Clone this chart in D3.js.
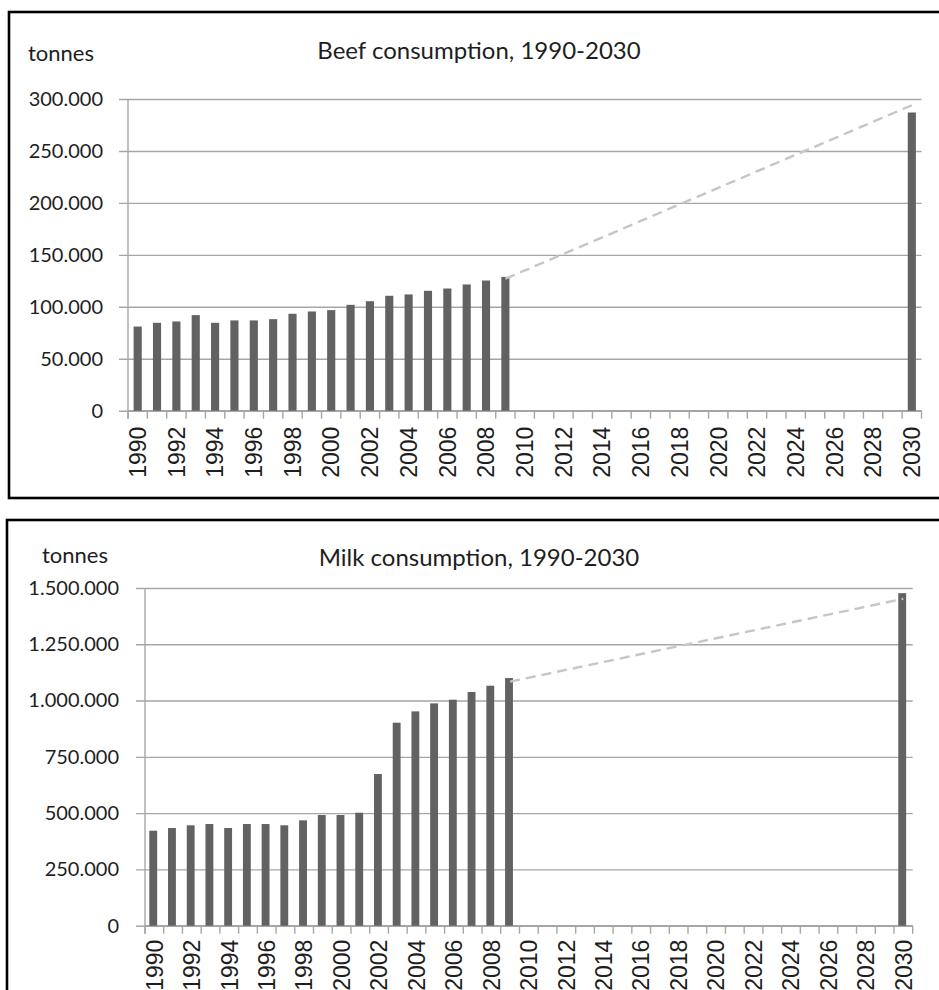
<!DOCTYPE html>
<html>
<head>
<meta charset="utf-8">
<script src="https://cdn.jsdelivr.net/npm/d3@7"></script>
<style>
  body { margin: 0; background: #fff; overflow: hidden; }
  svg { display: block; }
</style>
</head>
<body>
<svg id="main-svg" width="939" height="990"></svg>
<script>
'use strict';

// categories: every year on the x axis
const years = d3.range(1990, 2031);

// beef consumption, tonnes (actual 1990-2009 + 2030 target)
const beefYears = [1990, 1991, 1992, 1993, 1994, 1995, 1996, 1997, 1998, 1999,
    2000, 2001, 2002, 2003, 2004, 2005, 2006, 2007, 2008, 2009, 2030];
const beefValues = [81000, 84600, 85900, 92000, 84600, 86900, 86900, 88100, 93300, 95500,
    96800, 101900, 105400, 110600, 111900, 115400, 117600, 121500, 125300, 128800, 287000];
const beefTrendYears = [2009, 2030];
const beefTrendValues = [127000, 294000];
const beefTicks = [0, 50000, 100000, 150000, 200000, 250000, 300000];

// milk consumption, tonnes
const milkYears = beefYears;
const milkValues = [422000, 434000, 446000, 451600, 434000, 451600, 451600, 446000, 468000, 491600,
    491600, 502000, 673700, 901700, 952000, 987600, 1003800, 1037900, 1066000, 1100000, 1477000];
const milkTrendYears = [2009, 2030];
const milkTrendValues = [1084000, 1452000];
const milkTicks = [0, 250000, 500000, 750000, 1000000, 1250000, 1500000];

const locale = d3.formatLocale({decimal: ',', thousands: '.', grouping: [3], currency: ['', '']});
const fmt = locale.format(',');

const colors = {
    bar: '#626262',
    grid: '#a6a6a6',
    trend: '#c6c6c6',
    text: '#1e1e1e',
};

const svg = d3.select('#main-svg');

const drawChart = (cfg) => {
    const g = svg.append('g');

    // outer frame
    g.append('rect')
        .attr('x', cfg.box[0]).attr('y', cfg.box[1])
        .attr('width', cfg.box[2]).attr('height', cfg.box[3])
        .attr('fill', 'none').attr('stroke', '#000').attr('stroke-width', 2.6);

    const x = d3.scaleBand().domain(years).range([cfg.left, cfg.right]);
    const y = d3.scaleLinear().domain([0, cfg.max]).range([cfg.bottom, cfg.top]);
    const bw = x.bandwidth();

    // y axis with gridlines
    const ya = g.append('g')
        .attr('transform', `translate(${cfg.left},0)`)
        .call(d3.axisLeft(y).tickValues(cfg.ticks).tickFormat(fmt)
            .tickSize(-(cfg.right - cfg.left)).tickPadding(cfg.ypad));
    ya.select('.domain').remove();
    ya.selectAll('.tick line')
        .attr('x1', -9)
        .attr('stroke', colors.grid).attr('stroke-width', 1.4);
    ya.selectAll('.tick text')
        .attr('x', -cfg.ypad)
        .style('font-family', 'Lato, "Open Sans", sans-serif')
        .style('font-size', cfg.yfont + 'px')
        .attr('fill', colors.text);

    // y axis line
    g.append('line')
        .attr('x1', cfg.left).attr('x2', cfg.left)
        .attr('y1', y(cfg.max)).attr('y2', cfg.bottom + 8)
        .attr('stroke', colors.grid).attr('stroke-width', 1.4);

    // x axis: ticks at band boundaries, labels every other year
    const xa = g.append('g').attr('transform', `translate(0,${cfg.bottom})`);
    xa.append('line')
        .attr('x1', cfg.left).attr('x2', cfg.right)
        .attr('stroke', colors.grid).attr('stroke-width', 1.4);
    xa.selectAll('line.tk')
        .data(years.concat([null]))
        .enter().append('line')
        .attr('class', 'tk')
        .attr('x1', (d) => d === null ? cfg.right : x(d))
        .attr('x2', (d) => d === null ? cfg.right : x(d))
        .attr('y1', 0).attr('y2', 8)
        .attr('stroke', colors.grid).attr('stroke-width', 1.4);
    xa.selectAll('text')
        .data(years.filter((d) => d % 2 === 0))
        .enter().append('text')
        .attr('transform', (d) => `translate(${x(d) + bw / 2},${cfg.xpad}) rotate(-90)`)
        .attr('dy', '0.36em')
        .attr('text-anchor', 'end')
        .style('font-family', '"Liberation Sans", Arial, sans-serif')
        .style('font-size', cfg.xfont + 'px')
        .attr('fill', colors.text)
        .text((d) => d);

    // bars
    g.selectAll('rect.bar')
        .data(cfg.years.map((yr, i) => ({yr: yr, v: cfg.values[i]})))
        .enter().append('rect')
        .attr('class', 'bar')
        .attr('x', (d) => x(d.yr) + bw * cfg.barOffset)
        .attr('width', bw * 0.42)
        .attr('y', (d) => y(d.v))
        .attr('height', (d) => cfg.bottom - y(d.v))
        .attr('fill', colors.bar);

    // dashed trend to 2030
    const line = d3.line()
        .x((d) => x(d.yr) + bw / 2)
        .y((d) => y(d.v));
    g.append('path')
        .datum(cfg.trendYears.map((yr, i) => ({yr: yr, v: cfg.trendValues[i]})))
        .attr('d', line)
        .attr('fill', 'none')
        .attr('stroke', colors.trend)
        .attr('stroke-width', 2.4)
        .attr('stroke-dasharray', '10,6');

    // title and unit label
    g.append('text')
        .attr('x', cfg.titleX).attr('y', cfg.titleY)
        .attr('text-anchor', 'middle')
        .style('font-family', 'Lato, "Open Sans", sans-serif')
        .style('font-size', '24px')
        .attr('fill', colors.text)
        .text(cfg.title);
    g.append('text')
        .attr('x', cfg.unitX).attr('y', cfg.unitY)
        .style('font-family', 'Lato, "Open Sans", sans-serif')
        .style('font-size', '22px')
        .attr('fill', colors.text)
        .text('tonnes');
};

drawChart({
    box: [9, 12, 945, 486],
    left: 128, right: 921.5, top: 99, bottom: 410.7,
    max: 300000, ticks: beefTicks,
    years: beefYears, values: beefValues,
    trendYears: beefTrendYears, trendValues: beefTrendValues,
    barOffset: 0.29, ypad: 25, yfont: 20, xfont: 23, xpad: 16,
    title: 'Beef consumption, 1990-2030', titleX: 479, titleY: 59,
    unitX: 28, unitY: 61,
});

drawChart({
    box: [7, 520, 945, 490],
    left: 145, right: 912.7, top: 588, bottom: 925.7,
    max: 1500000, ticks: milkTicks,
    years: milkYears, values: milkValues,
    trendYears: milkTrendYears, trendValues: milkTrendValues,
    barOffset: 0.23, ypad: 26, yfont: 20, xfont: 23, xpad: 14,
    title: 'Milk consumption, 1990-2030', titleX: 479, titleY: 566,
    unitX: 42, unitY: 563,
});
</script>
</body>
</html>
